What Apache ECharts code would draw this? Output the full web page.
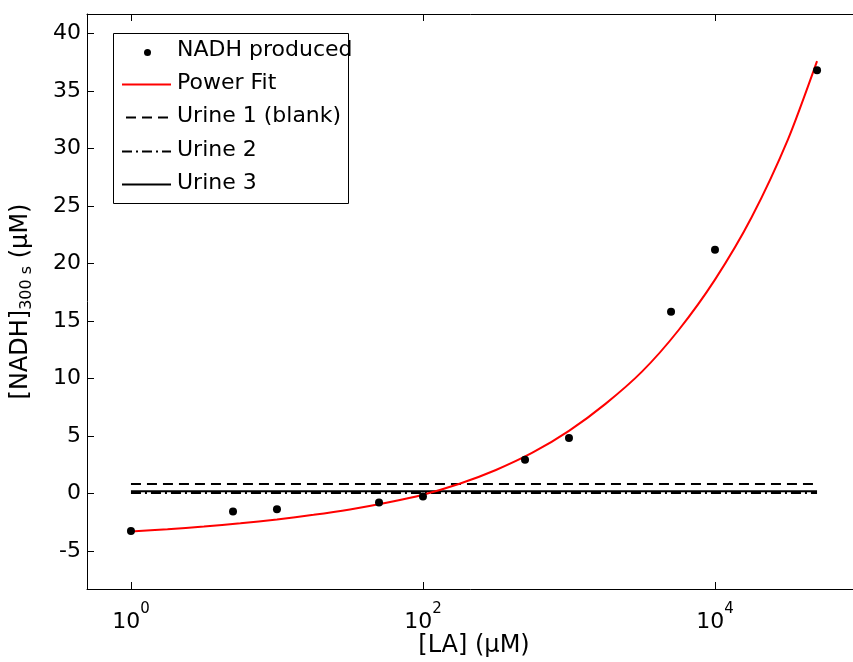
<!DOCTYPE html>
<html>
<head>
<meta charset="utf-8">
<script src="https://cdn.jsdelivr.net/npm/echarts@6/dist/echarts.min.js"></script>
<style>
  html, body { margin: 0; padding: 0; background: #fff; }
  #chart { width: 853px; height: 662px; }
</style>
</head>
<body>
<div id="chart"></div>
<script>
// Measured NADH after 300 s for each lactate concentration
const laConc = [1, 5, 10, 50, 100, 500, 1000, 5000, 10000, 50000];
const nadhProduced = [-3.25, -1.57, -1.36, -0.77, -0.26, 2.93, 4.82, 15.8, 21.2, 36.8];

// Power fit curve, sampled every quarter decade
const fitConc = [1, 1.78, 3.16, 5.62, 10, 17.8, 31.6, 56.2, 100, 178, 316, 562,
                 1000, 1778, 3162, 5623, 10000, 17783, 31623, 50000];
const fitNadh = [-3.3, -3.1, -2.87, -2.58, -2.25, -1.85, -1.38, -0.8, -0.1, 0.85, 2.05, 3.55,
                 5.45, 7.8, 10.6, 14.2, 18.6, 24.0, 30.8, 37.6];

// Urine sample levels (constant across the range)
const urineRange = [1, 50000];
const urine1 = 0.82;
const urine2 = 0.05;
const urine3 = 0.2;

// Axis ticks
const xTicks = [1, 100, 10000];
const yTicks = [-5, 0, 5, 10, 15, 20, 25, 30, 35, 40];

const FONT = '"DejaVu Sans", "Liberation Sans", Arial, sans-serif';
const FS = 22;
const NAME_FS = 24;

const chart = echarts.init(document.getElementById('chart'), null, { renderer: 'canvas' });

const flatLine = v => urineRange.map(x => [x, v]);

const xCommon = {
  type: 'log',
  min: 0.5,
  max: 100000,
  axisLine: { show: true, onZero: false, lineStyle: { color: '#000', width: 1 } },
  splitLine: { show: false },
  minorTick: { show: false },
};
const yCommon = {
  type: 'value',
  min: -8.3,
  max: 41.7,
  axisLine: { show: true, onZero: false, lineStyle: { color: '#000', width: 1 } },
  splitLine: { show: false },
};

const option = {
  backgroundColor: '#fff',
  animation: false,
  grid: { left: 87, top: 14, width: 774, bottom: 73, containLabel: false, outerBoundsMode: 'none' },
  xAxis: [
    Object.assign({}, xCommon, {
      position: 'bottom',
      name: '[LA] (\u03BCM)',
      nameLocation: 'middle',
      nameGap: 45,
      nameMoveOverlap: false,
      nameTextStyle: { fontFamily: FONT, fontSize: NAME_FS, color: '#000' },
      axisTick: { show: true, inside: true, length: 7, customValues: xTicks, lineStyle: { color: '#000' } },
      axisLabel: {
        show: true,
        customValues: xTicks,
        margin: 13,
        color: '#000',
        formatter: v => '{base|10}{sup|' + Math.round(Math.log10(v)) + '}',
        rich: {
          base: { fontFamily: FONT, fontSize: FS, color: '#000', verticalAlign: 'bottom', lineHeight: 31 },
          sup: { fontFamily: FONT, fontSize: 15, color: '#000', verticalAlign: 'top', lineHeight: 31 }
        }
      }
    }),
    Object.assign({}, xCommon, {
      position: 'top',
      axisTick: { show: true, inside: true, length: 7, customValues: xTicks, lineStyle: { color: '#000' } },
      axisLabel: { show: false }
    })
  ],
  yAxis: [
    Object.assign({}, yCommon, {
      position: 'left',
      name: '[NADH]{sub|300 s} (\u03BCM)',
      nameLocation: 'middle',
      nameGap: 52,
      nameRotate: 90,
      nameMoveOverlap: false,
      nameTextStyle: {
        fontFamily: FONT, fontSize: NAME_FS, color: '#000',
        rich: {
          sub: { fontFamily: FONT, fontSize: 16, color: '#000', verticalAlign: 'bottom', padding: [12, 0, 0, 0] }
        }
      },
      axisTick: { show: true, inside: true, length: 7, customValues: yTicks, lineStyle: { color: '#000' } },
      axisLabel: { show: true, customValues: yTicks, margin: 6, fontFamily: FONT, fontSize: FS, color: '#000' }
    }),
    Object.assign({}, yCommon, {
      position: 'right',
      axisTick: { show: true, inside: true, length: 7, customValues: yTicks, lineStyle: { color: '#000' } },
      axisLabel: { show: false }
    })
  ],
  series: [
    {
      name: 'Urine 1 (blank)',
      type: 'line',
      data: flatLine(urine1),
      showSymbol: false,
      lineStyle: { color: '#000', width: 2, type: [10, 6] },
      z: 2
    },
    {
      name: 'Urine 3',
      type: 'line',
      data: flatLine(urine3),
      showSymbol: false,
      lineStyle: { color: '#000', width: 2, type: 'solid' },
      z: 2
    },
    {
      name: 'Urine 2',
      type: 'line',
      data: flatLine(urine2),
      showSymbol: false,
      lineStyle: { color: '#000', width: 2, type: [10, 4, 2, 4] },
      z: 2
    },
    {
      name: 'Power Fit',
      type: 'line',
      data: fitConc.map((x, i) => [x, fitNadh[i]]),
      showSymbol: false,
      smooth: 0.25,
      lineStyle: { color: '#ff0000', width: 2 },
      z: 3
    },
    {
      name: 'NADH produced',
      type: 'scatter',
      data: laConc.map((x, i) => [x, nadhProduced[i]]),
      symbol: 'circle',
      symbolSize: 8,
      itemStyle: { color: '#000', opacity: 1 },
      z: 4
    }
  ],
  graphic: [
    // Legend box
    { type: 'rect', shape: { x: 113.5, y: 33.5, width: 235, height: 170 }, style: { fill: '#fff', stroke: '#000', lineWidth: 1 }, z: 10 },
    { type: 'circle', shape: { cx: 147.5, cy: 52.5, r: 3.5 }, style: { fill: '#000' }, z: 11 },
    { type: 'line', shape: { x1: 122, y1: 84.5, x2: 171, y2: 84.5 }, style: { stroke: '#ff0000', lineWidth: 2 }, z: 11 },
    { type: 'line', shape: { x1: 126, y1: 117.5, x2: 171, y2: 117.5 }, style: { stroke: '#000', lineWidth: 2, lineDash: [10, 6] }, z: 11 },
    { type: 'line', shape: { x1: 122, y1: 151.5, x2: 171, y2: 151.5 }, style: { stroke: '#000', lineWidth: 2, lineDash: [10, 4, 2, 4] }, z: 11 },
    { type: 'line', shape: { x1: 122, y1: 184.5, x2: 171, y2: 184.5 }, style: { stroke: '#000', lineWidth: 2 }, z: 11 },
    { type: 'text', left: 177, top: 39, style: { text: 'NADH produced', font: FS + 'px ' + FONT, fill: '#000' }, z: 11 },
    { type: 'text', left: 177, top: 72, style: { text: 'Power Fit', font: FS + 'px ' + FONT, fill: '#000' }, z: 11 },
    { type: 'text', left: 177, top: 105, style: { text: 'Urine 1 (blank)', font: FS + 'px ' + FONT, fill: '#000' }, z: 11 },
    { type: 'text', left: 177, top: 139, style: { text: 'Urine 2', font: FS + 'px ' + FONT, fill: '#000' }, z: 11 },
    { type: 'text', left: 177, top: 172, style: { text: 'Urine 3', font: FS + 'px ' + FONT, fill: '#000' }, z: 11 }
  ]
};

chart.setOption(option);
</script>
</body>
</html>
